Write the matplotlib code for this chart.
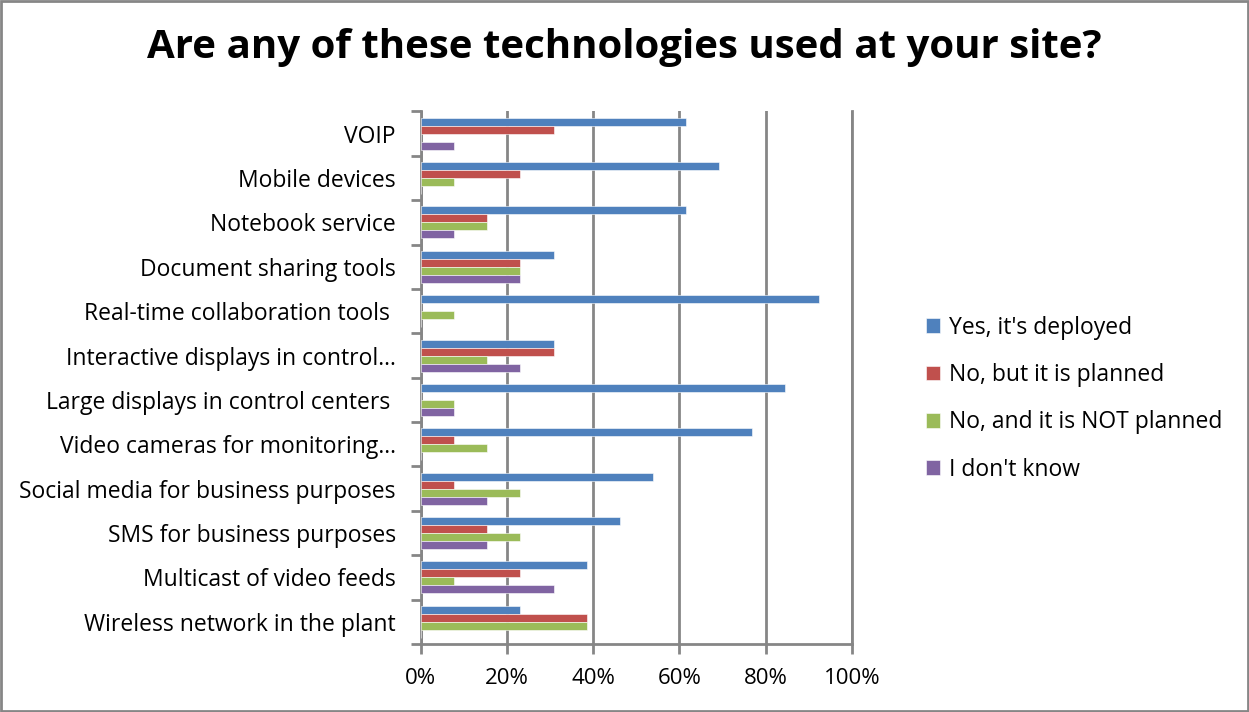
import numpy as np
import matplotlib.pyplot as plt
from matplotlib.patches import Rectangle

plt.rcParams['font.family'] = ['Open Sans', 'DejaVu Sans']

categorias = [
    "VOIP",
    "Mobile devices",
    "Notebook service",
    "Document sharing tools",
    "Real-time collaboration tools ",
    "Interactive displays in control\u2026",
    "Large displays in control centers ",
    "Video cameras for monitoring\u2026",
    "Social media for business purposes",
    "SMS for business purposes",
    "Multicast of video feeds",
    "Wireless network in the plant",
]

series = [
    "Yes, it's deployed",
    "No, but it is planned",
    "No, and it is NOT planned",
    "I don't know",
]

# percentuais por categoria (mesma ordem de categorias)
sim_implantado = [61.5, 69.2, 61.5, 30.8, 92.3, 30.8, 84.6, 76.9, 53.8, 46.2, 38.5, 23.1]
nao_planejado = [30.8, 23.1, 15.4, 23.1, 0.0, 30.8, 0.0, 7.7, 7.7, 15.4, 23.1, 38.5]
nao_sem_plano = [0.0, 7.7, 15.4, 23.1, 7.7, 15.4, 7.7, 15.4, 23.1, 23.1, 7.7, 38.5]
nao_sei = [7.7, 0.0, 7.7, 23.1, 0.0, 23.1, 7.7, 0.0, 15.4, 15.4, 30.8, 0.0]

cores = ["#4F81BD", "#C0504D", "#9BBB59", "#8064A2"]
valores = [sim_implantado, nao_planejado, nao_sem_plano, nao_sei]

fig = plt.figure(figsize=(12.49, 7.12), dpi=100)
ax = fig.add_axes([0.337, 0.0955, 0.345, 0.748])

n = len(categorias)
y = np.arange(n)[::-1]  # primeira categoria no topo
h = 0.18
offsets = [1.5 * h, 0.5 * h, -0.5 * h, -1.5 * h]

for vals, cor, off, nome in zip(valores, cores, offsets, series):
    ax.barh(y + off, vals, height=h, color=cor, edgecolor="white",
            linewidth=0.4, label=nome, zorder=3)

ax.set_xlim(0, 100)
ax.set_ylim(-0.5, n - 0.5)
ax.set_xticks(np.arange(0, 101, 20))
ax.set_xticklabels([f"{v}%" for v in range(0, 101, 20)], fontsize=16)
ax.set_yticks(y)
ax.set_yticklabels(categorias, fontsize=16.5)
ax.tick_params(axis="y", length=0, pad=18)
ax.set_yticks(np.arange(-0.5, n, 1.0), minor=True)
ax.tick_params(axis="y", which="minor", length=7, width=2, color="#868686")
ax.tick_params(axis="x", length=7, width=2, color="#868686", pad=10)

ax.grid(axis="x", color="#868686", linewidth=2, zorder=0)
ax.axvline(100, color="#868686", linewidth=2, zorder=0, clip_on=False)
for lado in ["top", "right"]:
    ax.spines[lado].set_visible(False)
for lado in ["left", "bottom"]:
    ax.spines[lado].set_color("#868686")
    ax.spines[lado].set_linewidth(2)

fig.text(0.5, 0.933, "Are any of these technologies used at your site?",
         fontsize=29, fontweight="bold", ha="center", va="center")

fig.legend(loc="center left", bbox_to_anchor=(0.725, 0.44), frameon=False,
           fontsize=16.5, handlelength=0.6, handleheight=0.6,
           labelspacing=1.02, handletextpad=0.4)

# moldura do gráfico
fig.patches.append(Rectangle((0.001, 0.001), 0.998, 0.998, transform=fig.transFigure,
                             fill=False, edgecolor="#868686", linewidth=2))

fig.savefig("out.png", dpi=100)
